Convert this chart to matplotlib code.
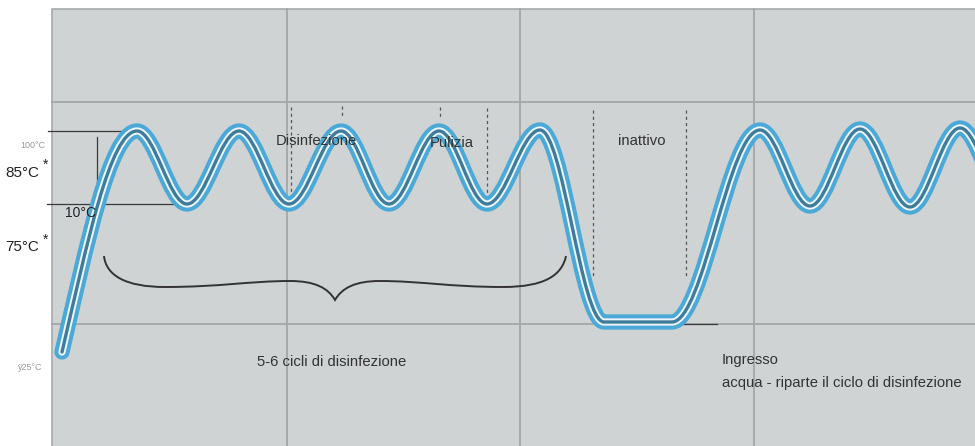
import matplotlib
matplotlib.use("Agg")
import matplotlib.pyplot as plt
from matplotlib.path import Path
from matplotlib.patches import PathPatch, Rectangle

plt.rcParams['font.family'] = ['Liberation Sans', 'DejaVu Sans']

# ---- data: temperature profile key points (time position, level) ----
time_pts = [62, 137, 187, 239, 289, 341, 389, 439, 487, 540, 604, 672, 760, 810, 860, 910, 960, 1010]
level_pts = [352, 131, 204, 131, 204, 131, 204, 131, 204, 130, 322, 322, 130, 206, 129, 207, 128, 206]
slope_pts = [-4.3] + [0.0] * (len(time_pts) - 1)

# phase markers (dashed) : x, y_top, y_bottom
dash_x = [291, 342, 440, 487, 593, 686]
dash_top = [107, 106, 107, 108, 110, 110]
dash_bot = [197, 118, 118, 195, 278, 278]

grid_x = [287, 520, 754]
grid_y = [102, 324]

# brace (bezier points)
brace_x = [104, 106, 125, 165, 220, 250, 290, 315, 328, 335,
           342, 355, 380, 420, 450, 503, 545, 562, 566]
brace_y = [256, 275, 287, 287, 287, 281, 281, 281, 288, 300,
           288, 281, 281, 281, 287, 287, 287, 275, 256]

W, H = 975, 446
fig = plt.figure(figsize=(W / 100, H / 100), dpi=100)
ax = fig.add_axes([0, 0, 1, 1])
ax.set_xlim(0, W)
ax.set_ylim(H, 0)
ax.axis('off')

# panel
ax.add_patch(Rectangle((52, 9), W - 52 + 5, H, facecolor='#cfd3d4',
                       edgecolor='#a7aaab', lw=1.2, zorder=0))
gcol = '#a4a7a8'
for gx in grid_x:
    ax.plot([gx, gx], [9, H], color=gcol, lw=1.3, zorder=1)
for gy in grid_y:
    ax.plot([52, W], [gy, gy], color=gcol, lw=1.3, zorder=1)

# curve path via cubic beziers (sine-like between extrema)
def handle(m):
    return 1 / 3 if m != 0 else 0.36

verts = [(time_pts[0], level_pts[0])]
codes = [Path.MOVETO]
for i in range(len(time_pts) - 1):
    x0, y0, m0 = time_pts[i], level_pts[i], slope_pts[i]
    x1, y1, m1 = time_pts[i + 1], level_pts[i + 1], slope_pts[i + 1]
    dx = x1 - x0
    h0, h1 = handle(m0) * dx, handle(m1) * dx
    verts += [(x0 + h0, y0 + m0 * h0), (x1 - h1, y1 - m1 * h1), (x1, y1)]
    codes += [Path.CURVE4] * 3
curve = Path(verts, codes)
for lw, col in [(11.0, '#4aa9d6'), (5.2, '#eef6f9'), (2.4, '#3f7c9c')]:
    ax.add_patch(PathPatch(curve, facecolor='none', edgecolor=col, lw=lw,
                           capstyle='round', joinstyle='round', zorder=4))

# reference lines on left
lc = '#3a3a3a'
ax.plot([48, 137], [131, 131], color=lc, lw=0.9, zorder=3)
ax.plot([47, 189], [204, 204], color=lc, lw=0.9, zorder=3)
ax.plot([97, 97], [137, 199], color=lc, lw=0.9, zorder=3)
ax.plot([670, 717], [324, 324], color=lc, lw=0.9, zorder=3)

# dashed phase markers
for x, t, b in zip(dash_x, dash_top, dash_bot):
    ax.plot([x, x], [t, b], color='#555555', lw=0.9, ls=(0, (2.5, 2.5)), zorder=2)

# brace
bverts = list(zip(brace_x, brace_y))
bcodes = [Path.MOVETO] + [Path.CURVE4] * (len(bverts) - 1)
ax.add_patch(PathPatch(Path(bverts, bcodes), facecolor='none', edgecolor='#333333',
                       lw=1.4, zorder=3))

# texts
tc = '#333333'
ax.text(20, 146, '100°C', fontsize=6.5, color='#9a9a9a', va='center', ha='left')
ax.text(5, 173, '85°C', fontsize=11, color='#222222', va='center', ha='left')
ax.text(43, 165, '*', fontsize=10, color='#222222', va='center', ha='left')
ax.text(65, 213, '10°C', fontsize=10, color='#222222', va='center', ha='left', zorder=5)
ax.text(5, 247, '75°C', fontsize=11, color='#222222', va='center', ha='left')
ax.text(43, 240, '*', fontsize=10, color='#222222', va='center', ha='left')
ax.text(18, 368, 'ÿ25°C', fontsize=6.5, color='#9a9a9a', va='center', ha='left')

fs = 10.7
ax.text(276, 141, 'Disinfezione', fontsize=fs, color=tc, va='center', ha='left', zorder=5)
ax.text(430, 143, 'Pulizia', fontsize=fs, color=tc, va='center', ha='left', zorder=5)
ax.text(618, 141, 'inattivo', fontsize=fs, color=tc, va='center', ha='left', zorder=5)
ax.text(257, 362, '5-6 cicli di disinfezione', fontsize=fs, color=tc, va='center', ha='left')
ax.text(722, 360, 'Ingresso', fontsize=fs, color=tc, va='center', ha='left')
ax.text(722, 383, 'acqua - riparte il ciclo di disinfezione', fontsize=fs, color=tc,
        va='center', ha='left')

fig.savefig('out.png', dpi=100)
